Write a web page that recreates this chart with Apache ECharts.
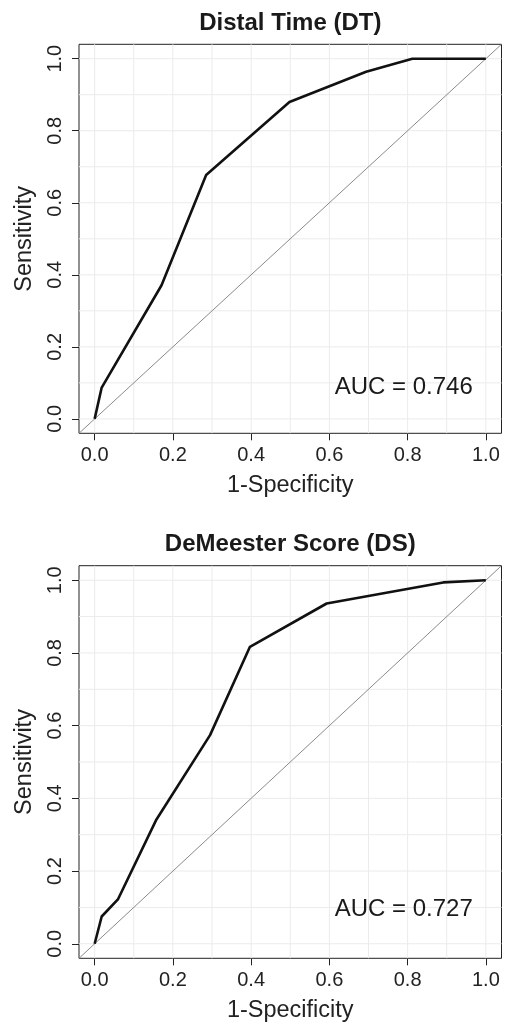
<!DOCTYPE html>
<html>
<head>
<meta charset="utf-8">
<script src="https://cdn.jsdelivr.net/npm/echarts@6/dist/echarts.min.js"></script>
<style>
html,body{margin:0;padding:0;background:#fff;}
#c{width:507px;height:1024px;}
</style>
</head>
<body>
<div id="c"></div>
<script>
// ---- data ----
const titles = ['Distal Time (DT)', 'DeMeester Score (DS)'];
const aucLabels = ['AUC = 0.746', 'AUC = 0.727'];
const aucPos = [[0.79, 0.088], [0.79, 0.094]];
const tickValues = [0, 0.2, 0.4, 0.6, 0.8, 1.0];
const gridValues = [0, 0.1, 0.2, 0.3, 0.4, 0.5, 0.6, 0.7, 0.8, 0.9, 1.0];
const dtFpr = [0, 0.018, 0.171, 0.285, 0.498, 0.694, 0.812, 1.0];
const dtTpr = [0, 0.087, 0.371, 0.677, 0.880, 0.964, 1.0, 1.0];
const dsFpr = [0, 0.018, 0.060, 0.158, 0.295, 0.397, 0.593, 0.891, 1.0];
const dsTpr = [0, 0.075, 0.123, 0.342, 0.574, 0.817, 0.936, 0.994, 1.0];
const xName = '1-Specificity';
const yName = 'Sensitivity';

const FONT = '"Liberation Sans", Arial, Helvetica, sans-serif';
const AXMIN = -0.04, AXMAX = 1.04;
const grids = [
  {left: 79, top: 44.3, width: 422.5, height: 389},
  {left: 79, top: 565.7, width: 422.5, height: 392.6}
];
const curves = [[dtFpr, dtTpr], [dsFpr, dsTpr]];

const chart = echarts.init(document.getElementById('c'), null, {renderer: 'canvas'});

const xAxes = [], yAxes = [], series = [], graphics = [];
grids.forEach((g, i) => {
  xAxes.push({
    gridIndex: i, type: 'value', min: AXMIN, max: AXMAX,
    axisLine: {show: false, onZero: false},
    axisTick: {show: true, inside: false, length: 7, customValues: tickValues, lineStyle: {color: '#222', width: 1}},
    axisLabel: {customValues: tickValues, formatter: v => v.toFixed(1), margin: 12, fontSize: 20, color: '#222', fontFamily: FONT},
    splitLine: {show: false},
    name: xName, nameLocation: 'middle', nameGap: 40,
    nameTextStyle: {fontSize: 23.5, color: '#222', fontFamily: FONT}
  });
  yAxes.push({
    gridIndex: i, type: 'value', min: AXMIN, max: AXMAX,
    axisLine: {show: false, onZero: false},
    axisTick: {show: true, inside: false, length: 7, customValues: tickValues, lineStyle: {color: '#222', width: 1}},
    axisLabel: {customValues: tickValues, formatter: v => v.toFixed(1), margin: 14, rotate: 90, fontSize: 20, color: '#222', fontFamily: FONT},
    splitLine: {show: false},
    name: yName, nameLocation: 'middle', nameGap: 42, nameRotate: 90,
    nameTextStyle: {fontSize: 23.5, color: '#222', fontFamily: FONT}
  });
  gridValues.forEach(v => {
    series.push({type: 'line', xAxisIndex: i, yAxisIndex: i, data: [[v, AXMIN], [v, AXMAX]],
      symbol: 'none', silent: true, z: 1, lineStyle: {color: '#ebebeb', width: 1}});
    series.push({type: 'line', xAxisIndex: i, yAxisIndex: i, data: [[AXMIN, v], [AXMAX, v]],
      symbol: 'none', silent: true, z: 1, lineStyle: {color: '#ebebeb', width: 1}});
  });
  series.push({type: 'line', xAxisIndex: i, yAxisIndex: i, data: [[AXMIN, AXMIN], [AXMAX, AXMAX]],
    symbol: 'none', silent: true, z: 2, lineStyle: {color: '#8a8a8a', width: 1}});
  const [fx, fy] = curves[i];
  series.push({type: 'line', xAxisIndex: i, yAxisIndex: i, data: fx.map((x, k) => [x, fy[k]]),
    symbol: 'none', silent: true, z: 3, lineStyle: {color: '#111', width: 2.6, join: 'round'}});
  series.push({type: 'scatter', xAxisIndex: i, yAxisIndex: i, data: [aucPos[i]], symbolSize: 0, silent: true, z: 4,
    itemStyle: {opacity: 1},
    label: {show: true, position: 'inside', formatter: aucLabels[i], fontSize: 24, color: '#1a1a1a', opacity: 1, fontFamily: FONT}});
  graphics.push({type: 'text', x: g.left + g.width / 2, y: i === 0 ? 23 : 544,
    style: {text: titles[i], textAlign: 'center', textVerticalAlign: 'middle', fontSize: 24, fontWeight: 'bold', fill: '#1a1a1a', fontFamily: FONT}});
});

chart.setOption({
  animation: false,
  backgroundColor: '#fff',
  grid: grids.map(g => Object.assign({show: true, borderColor: '#222', borderWidth: 1, backgroundColor: 'transparent', containLabel: false}, g)),
  xAxis: xAxes,
  yAxis: yAxes,
  series: series,
  graphic: graphics
});
</script>
</body>
</html>
